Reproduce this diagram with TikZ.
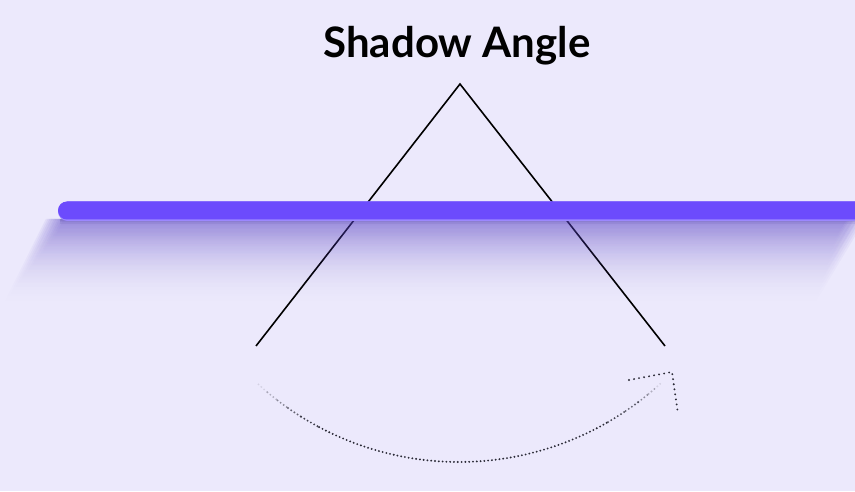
\documentclass[tikz,border=0pt]{standalone}
\usepackage{fontspec}
\usetikzlibrary{calc,fadings}
\setmainfont{Lato}
\definecolor{bg}{HTML}{ECE9FC}
\definecolor{bar}{HTML}{6C4BFD}
\definecolor{barlight}{HTML}{9C88FF}
\definecolor{shadowc}{HTML}{5A44C6}
\definecolor{dotc}{HTML}{2A2A36}
\tikzfading[name=fadedown, top color=transparent!0, bottom color=transparent!100]
\begin{document}
\begin{tikzpicture}[x=1pt,y=1pt,
  legline/.style={line width=1.6pt,black},
  dots/.style={line width=2.1pt,dotc,line cap=round,dash pattern=on 0pt off 3.8pt},
  headdots/.style={line width=2.1pt,dotc,line cap=round,dash pattern=on 0pt off 5.1pt}]
\fill[bg] (0,0) rectangle (855,491);
\useasboundingbox (0,0) rectangle (855,491);
% title
\node[font=\bfseries\fontsize{42}{48}\selectfont,anchor=base] (title) at (457,433) {Shadow Angle};
% triangle legs
\coordinate (apex) at (460,407);
\coordinate (lend) at (256,145);
\coordinate (rend) at (665,145);
\draw[legline] (lend) -- (apex) -- (rend);
% soft shadow of bar (slanted down-left, fading downward)
\foreach \j in {0,...,9}{
  \pgfmathsetmacro{\d}{20+\j*7}
  \fill[shadowc,opacity=0.075,path fading=fadedown]
    (64-\j*2,272) -- (64-\j*2-0.5*\d,272-\d) -- (848+\j*2-0.6*\d,272-\d) -- (848+\j*2,272) -- cycle;
}
\foreach \k in {1,...,3}{
  \fill[shadowc!80!black,opacity=0.1] (60,272) rectangle (855,272-\k*1.6);
}
% bar
\fill[barlight,rounded corners=9.5pt] (58,270) rectangle (880,289.5);
\fill[bar,rounded corners=9pt] (58,271.5) rectangle (880,289.5);
% arc with fading ends
\coordinate (c) at (459,327);
\foreach \a/\b/\o in {227.7/230/0.12,230/232.5/0.3,232.5/235/0.5,235/238/0.7,238/242/0.88,242/300/1,300/304/0.88,304/307/0.7,307/309.5/0.5,309.5/311/0.3,311/312.5/0.12}{
  \draw[dots,opacity=\o] ($(c)+(\a:298)$) arc[start angle=\a,end angle=\b,radius=298];
}
% arrowhead
\coordinate (tip) at (672,119);
\coordinate (arm1) at (629,111);
\coordinate (arm2) at (678,77);
\draw[headdots] (arm1) -- (tip) -- (arm2);
\end{tikzpicture}
\end{document}
